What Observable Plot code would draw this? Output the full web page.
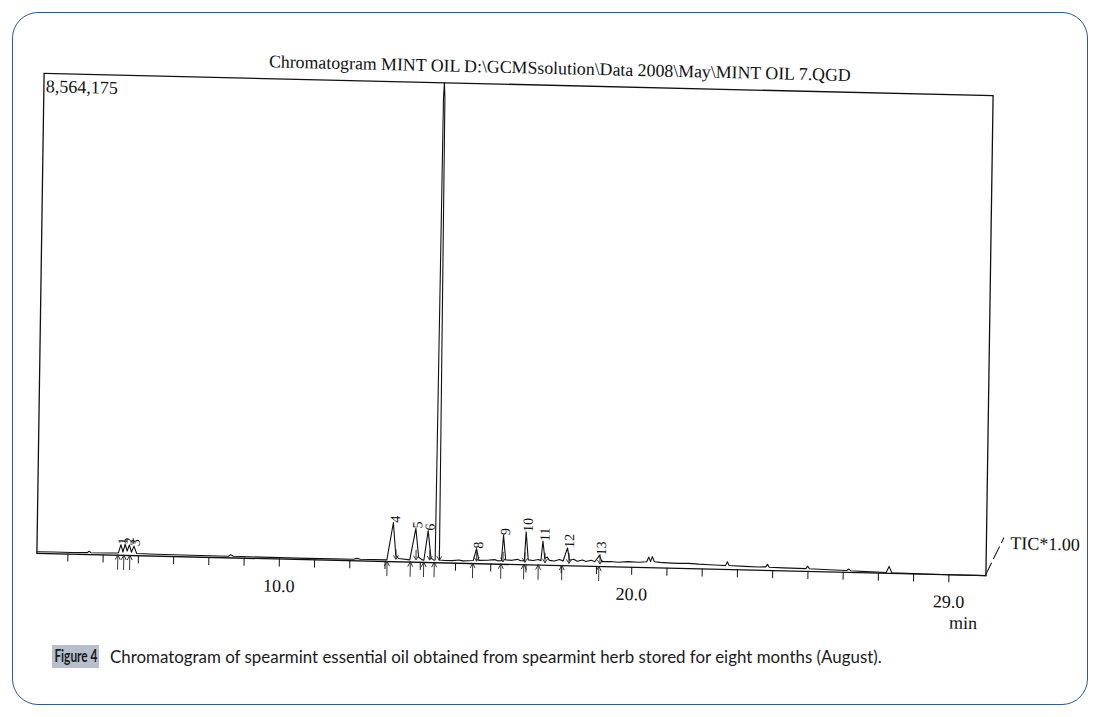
<!DOCTYPE html>
<html>
<head>
<meta charset="utf-8">
<script src="https://cdn.jsdelivr.net/npm/d3@7"></script>
<script src="https://cdn.jsdelivr.net/npm/@observablehq/plot@0.6"></script>
<style>
  html, body { margin: 0; padding: 0; background: #fff; }
  #page { position: relative; width: 1099px; height: 717px; overflow: hidden; background: #fff; }
  #border { position: absolute; left: 12px; top: 12px; width: 1074px; height: 691px;
            border: 1.5px solid #2d5b8e; border-radius: 26px; box-sizing: content-box; }
  #chart { position: absolute; left: 0; top: 0; }
  #chart svg { transform: matrix(1, 0.0235, -0.015, 1, 0, 0); transform-origin: 514px 325px; }
  #figlabel { position: absolute; left: 52px; top: 645px; width: 47px; height: 23px; background: #b6bfcc;
              line-height: 23px; text-align: center; white-space: nowrap; }
  #figlabel span { display: inline-block; font-family: Lato, "Open Sans", sans-serif; font-weight: bold;
              font-size: 16.5px; color: #1a1a1a; transform: scaleX(0.72); transform-origin: center; margin: 0 -10px; }
  #figtext { position: absolute; left: 110px; top: 645px; height: 23px; line-height: 23px;
             font-family: Lato, "Open Sans", sans-serif; font-size: 16.9px; color: #1a1a1a; white-space: nowrap; }
</style>
</head>
<body>
<div id="page">
  <div id="border"></div>
  <div id="chart"></div>
  <div id="figlabel"><span>Figure 4</span></div>
  <div id="figtext">Chromatogram of spearmint essential oil obtained from spearmint herb stored for eight months (August).</div>
</div>
<script>
// ---- data ----
const titleText = "Chromatogram MINT OIL D:\\GCMSsolution\\Data 2008\\May\\MINT OIL 7.QGD";
const yMaxLabel = "8,564,175";
const yMax = 8564175;
const channelLabel = "TIC*1.00";
const unitLabel = "min";

// TIC trace: retention time (min) and intensity
const traceTime = [3.12,3.6,4.1,4.55,4.6,4.65,5.2,5.43,5.5,5.56,5.62,5.68,5.74,5.8,5.87,5.95,6.5,7.5,8.55,8.62,8.7,9.5,10.5,11.5,12.1,12.2,12.3,13.05,13.22,13.3,13.38,13.7,13.86,13.95,14.05,14.1,14.21,14.3,14.38,14.42,14.46,14.48,14.5,14.54,14.7,14.9,15.1,15.2,15.5,15.59,15.66,15.9,16.1,16.2,16.3,16.35,16.42,16.6,16.75,16.85,16.95,16.99,17.06,17.2,17.35,17.42,17.47,17.53,17.6,17.66,17.8,17.95,18.05,18.17,18.23,18.35,18.45,18.6,18.7,18.85,18.95,19.08,19.15,19.4,19.6,19.9,20.2,20.42,20.48,20.53,20.58,20.64,20.8,21.0,21.3,21.6,21.9,22.2,22.5,22.66,22.71,22.76,23.2,23.6,23.8,23.85,23.9,24.3,24.94,24.99,25.04,25.6,26.1,26.16,26.22,26.8,27.22,27.3,27.38,27.8,28.3,29.0,30.05];
const traceValue = [30000,32000,30000,35000,60000,35000,38000,40000,190000,60000,200000,80000,190000,60000,170000,40000,35000,30000,30000,55000,30000,28000,25000,25000,28000,45000,30000,30000,700000,120000,60000,40000,605000,90000,45000,40000,570000,80000,45000,50000,8300000,8564175,8300000,50000,45000,45000,60000,45000,55000,270000,60000,65000,80000,60000,65000,520000,80000,75000,95000,70000,75000,590000,90000,80000,100000,80000,430000,120000,150000,90000,80000,110000,85000,320000,100000,120000,85000,110000,85000,110000,85000,200000,90000,95000,85000,100000,95000,105000,190000,110000,200000,110000,100000,95000,90000,95000,85000,80000,75000,70000,140000,75000,65000,60000,65000,110000,60000,55000,50000,95000,50000,40000,35000,60000,30000,20000,15000,125000,12000,8000,5000,0,0];

// numbered peaks
const peakIds = ["1","2","3","4","5","6","8","9","10","11","12","13"];
const peakTimes = [5.5,5.68,5.85,13.22,13.86,14.21,15.59,16.35,16.99,17.47,18.17,19.08];
const peakHeights = [190000,200000,170000,700000,605000,570000,270000,520000,590000,430000,320000,200000];

// integration markers (peak start ↑ below axis, peak end ↓ above axis)
const startMarks = [5.43,5.6,5.77,13.07,13.73,14.11,14.41,15.5,16.3,16.95,17.36,18.03,19.08];
const endMarks = [13.32,13.89,14.28,14.55,15.61,16.36,16.98,17.55,18.23,19.11];

// x axis ticks
const tickValues = [4,5,6,7,8,9,10,11,12,13,14,15,16,17,18,19,20,21,22,23,24,25,26,27,28,29];
const tickLabelValues = [10,20,29];
const tickLabelTexts = ["10.0","20.0","29.0"];

const trace = traceTime.map((t, i) => ({t, v: traceValue[i]}));
const peaks = peakIds.map((id, i) => ({id, t: peakTimes[i], v: peakHeights[i]}));

// small marker arrows, placed with the x scale
const markerArrows = (index, scales, values, dims) => {
  const y0 = dims.height - dims.marginBottom;
  const g = d3.create("svg:g").attr("fill", "none").attr("stroke", "#222").attr("stroke-width", 0.9);
  for (const t of startMarks) {
    const x = scales.x(t);
    g.append("path").attr("d", `M${x},${y0 + 15}V${y0}M${x - 2.5},${y0 + 5}L${x},${y0}L${x + 2.5},${y0 + 5}`);
  }
  for (const t of endMarks) {
    const x = scales.x(t);
    g.append("path").attr("d", `M${x},${y0 - 12}V${y0 - 2}M${x - 2.5},${y0 - 6}L${x},${y0 - 2}L${x + 2.5},${y0 - 6}`);
  }
  return g.node();
};

const slash = (index, scales, values, dims) => {
  const x0 = dims.width - dims.marginRight, y0 = dims.height - dims.marginBottom;
  return d3.create("svg:line")
    .attr("x1", x0).attr("y1", y0).attr("x2", x0 + 18).attr("y2", y0 - 38)
    .attr("stroke", "#111").attr("stroke-width", 1).attr("stroke-dasharray", "14,4").node();
};

const chart = Plot.plot({
  width: 1099,
  height: 620,
  marginLeft: 40,
  marginRight: 110,
  marginTop: 84,
  marginBottom: 56,
  style: {fontFamily: "'Liberation Serif', 'DejaVu Serif', serif", background: "transparent", overflow: "visible", color: "#111"},
  x: {domain: [3.12, 30.05], axis: null},
  y: {domain: [0, yMax], axis: null},
  marks: [
    Plot.axisX({
      ticks: tickValues, tickSize: 8, tickPadding: 12, fontSize: 18, stroke: "#111", label: null,
      tickFormat: d => { const k = tickLabelValues.indexOf(d); return k >= 0 ? tickLabelTexts[k] : ""; }
    }),
    Plot.line(trace, {x: "t", y: "v", stroke: "#111", strokeWidth: 1.1}),
    Plot.frame({stroke: "#111", strokeWidth: 1.3}),
    Plot.text(peaks, {x: "t", y: "v", text: "id", rotate: -90, textAnchor: "start", dx: 2, fontSize: 14, fill: "#111"}),
    markerArrows,
    Plot.text([titleText], {frameAnchor: "top", dx: 41, dy: -17, lineAnchor: "middle", fontSize: 17.8, fill: "#111"}),
    Plot.text([yMaxLabel], {frameAnchor: "top-left", textAnchor: "start", lineAnchor: "middle", dx: 2, dy: 13, fontSize: 18, fill: "#111"}),
    Plot.text([unitLabel], {frameAnchor: "bottom-right", textAnchor: "middle", lineAnchor: "middle", dx: -22, dy: 48, fontSize: 18, fill: "#111"}),
    Plot.text([channelLabel], {frameAnchor: "bottom-right", textAnchor: "start", lineAnchor: "middle", dx: 24, dy: -33, fontSize: 18, fill: "#111"}),
    slash
  ]
});
document.getElementById("chart").appendChild(chart);
</script>
</body>
</html>
